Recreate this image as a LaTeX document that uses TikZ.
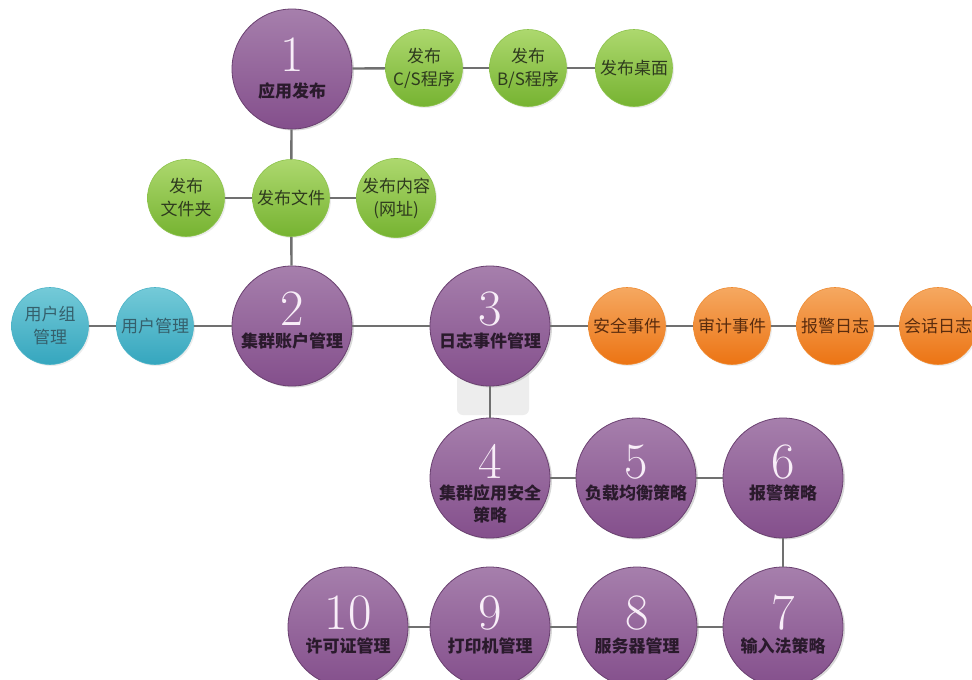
\documentclass[tikz,border=0pt]{standalone}
\usepackage{fontspec}
\newfontfamily\cjk{Noto Sans CJK SC}
\usetikzlibrary{shadows}
\definecolor{linegray}{HTML}{707070}
\definecolor{purpT}{HTML}{A67FAC}
\definecolor{purpB}{HTML}{844F8C}
\definecolor{purpR}{HTML}{6A4070}
\definecolor{grnT}{HTML}{ADD86E}
\definecolor{grnB}{HTML}{76B331}
\definecolor{grnR}{HTML}{8BC24A}
\definecolor{tealT}{HTML}{74CAD8}
\definecolor{tealB}{HTML}{35A6BE}
\definecolor{tealR}{HTML}{4AB3C7}
\definecolor{orgT}{HTML}{F5A860}
\definecolor{orgB}{HTML}{EC7414}
\definecolor{orgR}{HTML}{EF8A30}
\definecolor{digitc}{HTML}{F8EEF8}
\definecolor{ptext}{HTML}{2A1A2C}
\definecolor{gtext}{HTML}{2E3A1E}
\definecolor{ttext}{HTML}{35606C}
\definecolor{otext}{HTML}{5A2C0E}
\definecolor{rectgray}{HTML}{EDEDED}
\begin{document}
\begin{tikzpicture}[x=1pt,y=-1pt,
  conn/.style={draw=linegray, line width=2.4pt},
  bigc/.style={circle, minimum size=120pt, inner sep=0pt, top color=purpT, bottom color=purpB, draw=purpR, line width=0.8pt,
    drop shadow={opacity=0.3, shadow xshift=2pt, shadow yshift=-1.5pt}},
  smallc/.style={circle, minimum size=77pt, inner sep=0pt, align=center, line width=0.6pt,
    font=\cjk\fontsize{17}{23}\selectfont,
    drop shadow={opacity=0.15, shadow xshift=1.5pt, shadow yshift=-1.5pt}},
  gcirc/.style={smallc, top color=grnT, bottom color=grnB, draw=grnR, text=gtext},
  tcirc/.style={smallc, top color=tealT, bottom color=tealB, draw=tealR, text=ttext},
  ocirc/.style={smallc, top color=orgT, bottom color=orgB, draw=orgR, text=otext},
  digit/.style={font=\fontsize{51}{51}\selectfont, text=digitc, inner sep=0pt},
  blabel/.style={font=\cjk\bfseries\fontsize{17}{22}\selectfont, text=ptext, align=center, inner sep=0pt}
]
\useasboundingbox[fill=white] (0,0) rectangle (972,680);

% light gray tab below circle 3
\fill[rectgray, rounded corners=6pt] (457,360) rectangle (529,415);

% big purple circles
\node[bigc] (n1) at (292,69) {};
\node[bigc] (n2) at (292,326) {};
\node[bigc] (n3) at (490,326) {};
\node[bigc] (n4) at (490,478) {};
\node[bigc] (n5) at (636,478) {};
\node[bigc] (n6) at (783,478) {};
\node[bigc] (n7) at (783,627) {};
\node[bigc] (n8) at (637,627) {};
\node[bigc] (n9) at (490,627) {};
\node[bigc] (n10) at (348,627) {};

% digits
\node[digit, yshift=14pt] (d1) at (n1) {1};
\node[digit, yshift=17pt] (d2) at (n2) {2};
\node[digit, yshift=17pt] (d3) at (n3) {3};
\node[digit, yshift=17pt] (d4) at (n4) {4};
\node[digit, yshift=16pt] (d5) at (n5) {5};
\node[digit, yshift=16pt] (d6) at (n6) {6};
\node[digit, yshift=14pt] (d7) at (n7) {7};
\node[digit, yshift=14pt] (d8) at (n8) {8};
\node[digit, yshift=14pt] (d9) at (n9) {9};
\node[digit, yshift=14pt] (d10) at (n10) {10};

% labels
\node[blabel, yshift=-22pt] (t1) at (n1) {应用发布};
\node[blabel, yshift=-15pt] (t2) at (n2) {集群账户管理};
\node[blabel, yshift=-15pt] (t3) at (n3) {日志事件管理};
\node[blabel, yshift=-26pt] (t4) at (n4) {集群应用安全\\策略};
\node[blabel, yshift=-15pt] (t5) at (n5) {负载均衡策略};
\node[blabel, yshift=-15pt] (t6) at (n6) {报警策略};
\node[blabel, yshift=-19pt] (t7) at (n7) {输入法策略};
\node[blabel, yshift=-19pt] (t8) at (n8) {服务器管理};
\node[blabel, yshift=-19pt] (t9) at (n9) {打印机管理};
\node[blabel, yshift=-19pt] (t10) at (n10) {许可证管理};

% green circles
\node[gcirc] (cs) at (424,68) {发布\\C/S程序};
\node[gcirc] (bs) at (528,68) {发布\\B/S程序};
\node[gcirc] (desk) at (634,68) {发布桌面};
\node[gcirc] (folder) at (186,198) {发布\\文件夹};
\node[gcirc] (file) at (291,198) {发布文件};
\node[gcirc] (content) at (396,198) {发布内容\\(网址)};

% teal circles
\node[tcirc] (ug) at (50,326) {用户组\\管理};
\node[tcirc] (um) at (155,326) {用户管理};

% orange circles
\node[ocirc] (e1) at (627,326) {安全事件};
\node[ocirc] (e2) at (732,326) {审计事件};
\node[ocirc] (e3) at (835,326) {报警日志};
\node[ocirc] (e4) at (938,326) {会话日志};

% connectors
\draw[conn] (n1) -- (cs);
\draw[conn] (cs) -- (bs);
\draw[conn] (bs) -- (desk);
\draw[conn] (n1) -- (file);
\draw[conn] (folder) -- (file);
\draw[conn] (file) -- (content);
\draw[conn] (file) -- (n2);
\draw[conn] (ug) -- (um);
\draw[conn] (um) -- (n2);
\draw[conn] (n2) -- (n3);
\draw[conn] (n3) -- (e1);
\draw[conn] (e1) -- (e2);
\draw[conn] (e2) -- (e3);
\draw[conn] (e3) -- (e4);
\draw[conn] (n3) -- (n4);
\draw[conn] (n4) -- (n5);
\draw[conn] (n5) -- (n6);
\draw[conn] (n6) -- (n7);
\draw[conn] (n7) -- (n8);
\draw[conn] (n8) -- (n9);
\draw[conn] (n9) -- (n10);
\end{tikzpicture}
\end{document}
